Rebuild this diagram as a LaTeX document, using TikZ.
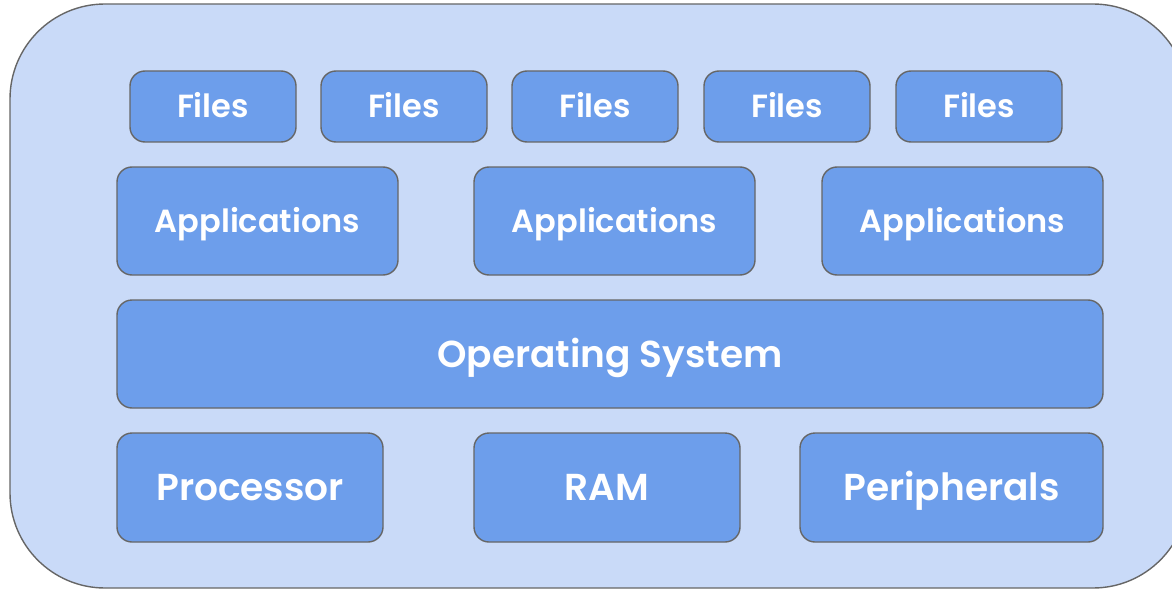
\documentclass[tikz,border=0pt]{standalone}
\usepackage{fontspec}
\setmainfont{Poppins}[BoldFont={Poppins SemiBold}]
\definecolor{outerfill}{HTML}{C9DAF8}
\definecolor{boxfill}{HTML}{6D9EEB}
\definecolor{edge}{HTML}{666666}
\begin{document}
\begin{tikzpicture}[x=1pt,y=-1pt,
  blk/.style={draw=edge, line width=1.4pt, fill=boxfill, rounded corners=15pt,
    text=white, inner sep=0pt, anchor=center, text depth=0pt},
  small/.style={blk, font=\fontsize{32}{36}\selectfont\bfseries, text height=22.4pt},
  mid/.style={blk, font=\fontsize{32}{36}\selectfont\bfseries, text height=22.4pt},
  big/.style={blk, font=\fontsize{37.5}{42}\selectfont\bfseries, text height=26.2pt},
  large/.style={blk, font=\fontsize{37.5}{42}\selectfont\bfseries, text height=26.2pt}]
\useasboundingbox (0,0) rectangle (1172,591);
\draw[draw=edge, line width=1.4pt, fill=outerfill, rounded corners=95pt] (10,4) rectangle (1188,588);
% Files row
\node[small, minimum width=166pt, minimum height=71pt] (f1) at (213,106.5) {Files};
\node[small, minimum width=166pt, minimum height=71pt] (f2) at (404,106.5) {Files};
\node[small, minimum width=166pt, minimum height=71pt] (f3) at (595,106.5) {Files};
\node[small, minimum width=166pt, minimum height=71pt] (f4) at (787,106.5) {Files};
\node[small, minimum width=166pt, minimum height=71pt] (f5) at (979,106.5) {Files};
% Applications
\node[mid, minimum width=281pt, minimum height=108pt] (a1) at (257.5,221) {Applications};
\node[mid, minimum width=281pt, minimum height=108pt] (a2) at (614.5,221) {Applications};
\node[mid, minimum width=281pt, minimum height=108pt] (a3) at (962.5,221) {Applications};
% OS
\node[big, minimum width=986pt, minimum height=108pt] (os) at (610,354) {Operating System};
% Hardware
\node[large, minimum width=266pt, minimum height=109pt] (cpu) at (250,487.5) {Processor};
\node[large, minimum width=266pt, minimum height=109pt] (ram) at (607,487.5) {RAM};
\node[large, minimum width=303pt, minimum height=109pt] (per) at (951.5,487.5) {Peripherals};
\end{tikzpicture}
\end{document}
